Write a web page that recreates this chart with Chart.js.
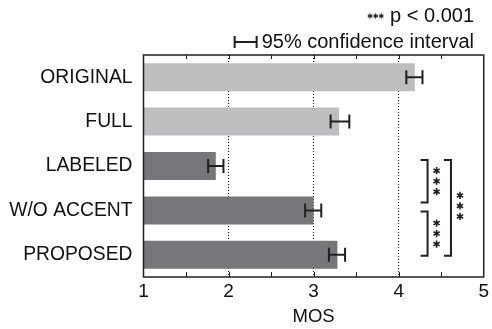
<!DOCTYPE html>
<html>
<head>
<meta charset="utf-8">
<script src="https://cdn.jsdelivr.net/npm/chart.js@4/dist/chart.umd.min.js"></script>
<style>
  html, body { margin: 0; padding: 0; background: #fff; }
  canvas { display: block; }
</style>
</head>
<body>
<canvas id="chart" width="492" height="329"></canvas>
<script>
// MOS scores per system
const categories = ["ORIGINAL", "FULL", "LABELED", "W/O ACCENT", "PROPOSED"]
const mosMeans = [4.19, 3.30, 1.85, 3.00, 3.28]
const ciLow = [4.09, 3.20, 1.76, 2.90, 3.18]
const ciHigh = [4.28, 3.42, 1.94, 3.09, 3.37]
const xTicks = [1, 2, 3, 4, 5]
// pairs of category indexes marked as significant (***)
const comparisons = [[2, 3], [3, 4], [2, 4]]

const FONT = "'Liberation Sans', Arial, Helvetica, sans-serif"
const INK = "#231f20"
const LIGHT = "#bdbec0"
const DARK = "#76777a"

function drawStar(ctx, x, y, r) {
  ctx.beginPath()
  for (let i = 0; i < 3; i++) {
    const a = Math.PI / 2 + i * Math.PI / 3
    ctx.moveTo(x - r * Math.cos(a), y - r * Math.sin(a))
    ctx.lineTo(x + r * Math.cos(a), y + r * Math.sin(a))
  }
  ctx.stroke()
}

const decorations = {
  id: "decorations",
  afterDatasetsDraw(chart) {
    const { ctx, chartArea: area, scales: { x, y } } = chart
    ctx.save()
    ctx.strokeStyle = INK
    ctx.lineCap = "butt"

    // error bars
    ctx.lineWidth = 2
    categories.forEach((c, i) => {
      const cy = y.getPixelForValue(i)
      const x0 = x.getPixelForValue(ciLow[i])
      const x1 = x.getPixelForValue(ciHigh[i])
      ctx.beginPath()
      ctx.moveTo(x0, cy); ctx.lineTo(x1, cy)
      ctx.moveTo(x0, cy - 7); ctx.lineTo(x0, cy + 7)
      ctx.moveTo(x1, cy - 7); ctx.lineTo(x1, cy + 7)
      ctx.stroke()
    })

    // frame and inward ticks
    ctx.lineWidth = 1.5
    ctx.strokeRect(area.left, area.top, area.right - area.left, area.bottom - area.top)
    ctx.lineWidth = 1
    for (let v = xTicks[0] + 0.5; v < xTicks[xTicks.length - 1]; v += 0.5) {
      const px = Math.round(x.getPixelForValue(v)) + 0.5
      ctx.beginPath()
      ctx.moveTo(px, area.top); ctx.lineTo(px, area.top + 4)
      ctx.moveTo(px, area.bottom); ctx.lineTo(px, area.bottom - 5)
      ctx.stroke()
    }

    // significance brackets
    ctx.lineWidth = 2
    comparisons.forEach(([a, b]) => {
      const outer = b - a > 1
      const spine = x.getPixelForValue(outer ? 4.615 : 4.34)
      const top = y.getPixelForValue(a) + (a === 2 ? -6 : 1)
      const bottom = y.getPixelForValue(b) + (b === 3 ? -8 : 1)
      ctx.beginPath()
      ctx.moveTo(spine - 7, top); ctx.lineTo(spine, top)
      ctx.lineTo(spine, bottom); ctx.lineTo(spine - 7, bottom)
      ctx.stroke()
      const mid = (top + bottom) / 2 - (outer ? 2 : 0)
      ctx.lineWidth = 1.6
      for (let k = -1; k <= 1; k++) drawStar(ctx, spine + 9, mid + k * 10.5, 3.6)
      ctx.lineWidth = 2
    })

    // legend
    ctx.fillStyle = "#111"
    ctx.font = "20px " + FONT
    ctx.textAlign = "right"
    ctx.textBaseline = "middle"
    ctx.fillText("p < 0.001", 474, 16)
    ctx.fillText("95% confidence interval", 474, 42)
    const pStart = 474 - ctx.measureText("p < 0.001").width
    const iStart = 474 - ctx.measureText("95% confidence interval").width
    ctx.lineWidth = 1.1
    for (let k = 0; k < 3; k++) drawStar(ctx, pStart - 20 + k * 5.6, 16, 2.6)
    ctx.lineWidth = 2
    const e0 = iStart - 27, e1 = iStart - 5
    ctx.beginPath()
    ctx.moveTo(e0, 42); ctx.lineTo(e1, 42)
    ctx.moveTo(e0, 36); ctx.lineTo(e0, 48)
    ctx.moveTo(e1, 36); ctx.lineTo(e1, 48)
    ctx.stroke()
    ctx.restore()
  }
}

new Chart(document.getElementById("chart"), {
  type: "bar",
  data: {
    labels: categories,
    datasets: [{
      data: mosMeans,
      backgroundColor: [LIGHT, LIGHT, DARK, DARK, DARK],
      barPercentage: 0.63,
      categoryPercentage: 1
    }]
  },
  options: {
    indexAxis: "y",
    responsive: false,
    animation: false,
    layout: { padding: { top: 55, right: 5, left: 0, bottom: 0 } },
    plugins: { legend: { display: false }, tooltip: { enabled: false } },
    scales: {
      x: {
        type: "linear",
        min: xTicks[0],
        max: xTicks[xTicks.length - 1],
        afterBuildTicks(scale) { scale.ticks = xTicks.map(v => ({ value: v })) },
        ticks: { font: { family: FONT, size: 19 }, color: "#111", padding: 3 },
        grid: {
          drawTicks: false,
          lineWidth: 1,
          color: c => (c.tick && c.tick.value > xTicks[0] && c.tick.value < xTicks[xTicks.length - 1]) ? "#000" : "rgba(0,0,0,0)"
        },
        border: { display: false, dash: [1, 2] },
        title: { display: true, text: "MOS", font: { family: FONT, size: 18.5 }, color: "#111", padding: { top: 0, bottom: 1 } },
        afterFit(scale) { scale.height = 52 }
      },
      y: {
        ticks: { font: { family: FONT, size: 19.3 }, color: "#111", padding: 11 },
        grid: { display: false, drawTicks: false },
        border: { display: false },
        afterFit(scale) { scale.width = 143.5 }
      }
    }
  },
  plugins: [decorations]
})
</script>
</body>
</html>
